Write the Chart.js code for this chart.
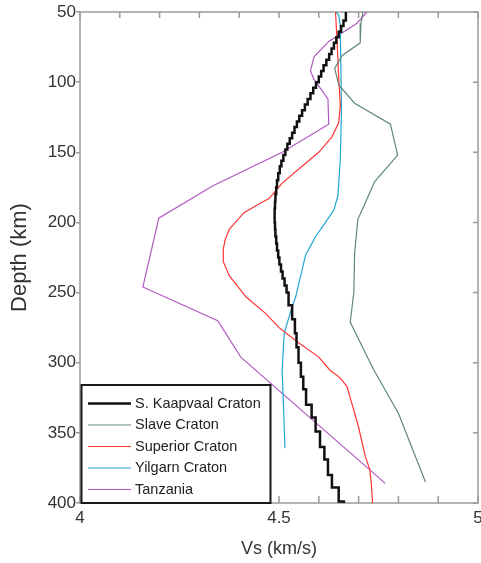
<!DOCTYPE html>
<html>
<head>
<meta charset="utf-8">
<script src="https://cdn.jsdelivr.net/npm/chart.js@4.4.1/dist/chart.umd.min.js"></script>
<style>
  html, body { margin: 0; padding: 0; background: #fff; overflow: hidden; }
  canvas { display: block; }
</style>
</head>
<body>
<canvas id="vsChart" width="481" height="563"></canvas>
<script>
// Profils Vs (km/s) en fonction de la profondeur (km)
const kaapDepth = [50, 56, 60, 64, 68, 72, 76, 80, 84, 88, 92, 96, 100, 104, 108, 112, 116, 120, 124, 128,
    132, 136, 140, 144, 148, 152, 156, 160, 165, 170, 175, 180, 185, 190, 195, 200, 205, 210, 215, 220,
    225, 230, 235, 240, 245, 250, 259, 269, 279, 289, 300, 310, 319, 330, 339, 349, 360, 369, 380, 389, 399, 400];
const kaapVs = [4.668, 4.662, 4.656, 4.650, 4.644, 4.638, 4.632, 4.626, 4.619, 4.612, 4.606, 4.600, 4.593, 4.586, 4.579, 4.572, 4.565, 4.558, 4.551, 4.545,
    4.539, 4.533, 4.527, 4.521, 4.516, 4.511, 4.506, 4.502, 4.498, 4.495, 4.493, 4.491, 4.490, 4.489, 4.489, 4.490, 4.491, 4.493, 4.495, 4.498,
    4.501, 4.505, 4.509, 4.514, 4.519, 4.524, 4.533, 4.540, 4.544, 4.549, 4.555, 4.561, 4.568, 4.582, 4.592, 4.603, 4.614, 4.623, 4.633, 4.650, 4.663, 4.663];

const slaveDepth = [50, 58, 72, 81, 90, 102, 115, 130, 152, 171, 184, 198, 222, 250, 271, 293, 305, 336, 385];
const slaveVs = [4.711, 4.706, 4.704, 4.659, 4.640, 4.650, 4.690, 4.780, 4.798, 4.740, 4.720, 4.698, 4.690, 4.688, 4.679, 4.717, 4.738, 4.800, 4.868];

const supDepth = [50, 72, 96, 117, 129, 139, 150, 160, 172, 183, 186, 193, 205, 212, 219, 228, 238, 253, 265, 275, 286, 296, 305, 311, 317, 329, 346, 367, 376, 386, 400];
const supVs = [4.642, 4.646, 4.650, 4.654, 4.650, 4.633, 4.600, 4.558, 4.508, 4.475, 4.455, 4.412, 4.375, 4.365, 4.360, 4.360, 4.375, 4.417, 4.467, 4.500, 4.550, 4.600, 4.627, 4.654, 4.671, 4.683, 4.700, 4.717, 4.728, 4.732, 4.735];

const yilDepth = [50, 52, 60, 120, 155, 172, 181, 191, 200, 210, 220, 223, 253, 260, 279, 305, 361];
const yilVs = [4.642, 4.650, 4.654, 4.657, 4.654, 4.650, 4.648, 4.638, 4.617, 4.592, 4.573, 4.567, 4.542, 4.533, 4.513, 4.508, 4.515];

const tanDepth = [50, 58, 71, 82, 92, 98, 112, 130, 150, 174, 197, 246, 270, 296, 386];
const tanVs = [4.721, 4.696, 4.625, 4.588, 4.579, 4.588, 4.623, 4.625, 4.508, 4.333, 4.198, 4.158, 4.346, 4.404, 4.767];

const fontName = "'Liberation Sans', Arial, sans-serif";

function toPoints(vs, depth) {
    return vs.map((v, i) => ({ x: v, y: depth[i] }));
}

// Cadre gris et graduations intérieures
const framePlugin = {
    id: 'frame',
    beforeDatasetsDraw(chart) {
        const { ctx, chartArea: a, scales: { x, y } } = chart;
        ctx.save();
        ctx.strokeStyle = '#9a9a9a';
        ctx.lineWidth = 1.5;
        ctx.strokeRect(a.left, a.top, a.right - a.left, a.bottom - a.top);
        ctx.beginPath();
        x.ticks.forEach(t => {
            const px = x.getPixelForValue(t.value);
            ctx.moveTo(px, a.top);
            ctx.lineTo(px, a.top + 6);
            ctx.moveTo(px, a.bottom);
            ctx.lineTo(px, a.bottom - 7);
        });
        y.ticks.forEach(t => {
            const py = y.getPixelForValue(t.value);
            ctx.moveTo(a.right, py);
            ctx.lineTo(a.right - 5, py);
        });
        ctx.stroke();
        ctx.restore();
    }
};

// Légende encadrée en bas à gauche
const boxLegend = {
    id: 'boxLegend',
    afterDraw(chart) {
        const { ctx, chartArea: a } = chart;
        const left = a.left + 1.5, top = 385, right = 270.5, bottom = a.bottom;
        ctx.save();
        ctx.fillStyle = '#fff';
        ctx.fillRect(left, top, right - left, bottom - top);
        ctx.strokeStyle = '#1a1a1a';
        ctx.lineWidth = 2;
        ctx.strokeRect(left, top, right - left, bottom - top);
        ctx.font = '14.5px ' + fontName;
        ctx.textBaseline = 'middle';
        chart.data.datasets.forEach((ds, i) => {
            const yy = 403.5 + i * 21.5;
            ctx.beginPath();
            ctx.strokeStyle = ds.borderColor;
            ctx.lineWidth = ds.borderWidth;
            ctx.moveTo(88, yy);
            ctx.lineTo(131, yy);
            ctx.stroke();
            ctx.fillStyle = '#222';
            ctx.fillText(ds.label, 135, yy);
        });
        ctx.restore();
    }
};

const ctx = document.getElementById('vsChart').getContext('2d');
const vsChart = new Chart(ctx, {
    type: 'scatter',
    data: {
        datasets: [
            { label: 'S. Kaapvaal Craton', data: toPoints(kaapVs, kaapDepth), borderColor: '#111', borderWidth: 2.5, stepped: 'after' },
            { label: 'Slave Craton', data: toPoints(slaveVs, slaveDepth), borderColor: '#5f8a72', borderWidth: 1.2 },
            { label: 'Superior Craton', data: toPoints(supVs, supDepth), borderColor: '#ff3535', borderWidth: 1.2 },
            { label: 'Yilgarn Craton', data: toPoints(yilVs, yilDepth), borderColor: '#1fa6d4', borderWidth: 1.2 },
            { label: 'Tanzania', data: toPoints(tanVs, tanDepth), borderColor: '#b25ac2', borderWidth: 1.2 }
        ].map(ds => Object.assign({ showLine: true, pointRadius: 0, tension: 0, fill: false, borderJoinStyle: 'miter' }, ds))
    },
    options: {
        responsive: false,
        animation: false,
        layout: { padding: { top: 12, right: 3, bottom: 0, left: 0 } },
        plugins: { legend: { display: false }, tooltip: { enabled: false } },
        scales: {
            x: {
                type: 'linear',
                min: 4,
                max: 5,
                grid: { display: false, drawTicks: false },
                border: { display: false },
                ticks: {
                    stepSize: 0.1,
                    padding: 5,
                    maxRotation: 0,
                    autoSkip: false,
                    color: '#333',
                    font: { family: fontName, size: 17 },
                    callback: v => Math.abs(v * 2 - Math.round(v * 2)) < 1e-6 ? String(Math.round(v * 2) / 2) : ''
                },
                title: { display: true, text: 'Vs (km/s)', color: '#333', font: { family: fontName, size: 18 }, padding: { top: 0, bottom: 3 } },
                afterFit(scale) {
                    scale.height = 60;
                    scale.paddingLeft = 0;
                    scale.paddingRight = 0;
                }
            },
            y: {
                type: 'linear',
                reverse: true,
                min: 50,
                max: 400,
                grid: { drawOnChartArea: false, drawTicks: true, tickLength: 4, color: '#9a9a9a', lineWidth: 1.5 },
                border: { display: false },
                ticks: { stepSize: 50, padding: 0, color: '#333', font: { family: fontName, size: 17 } },
                title: { display: true, text: 'Depth (km)', color: '#333', font: { family: fontName, size: 22 }, padding: { top: 7, bottom: 0 } },
                afterFit(scale) {
                    scale.width = 80;
                    scale.paddingTop = 0;
                    scale.paddingBottom = 0;
                }
            }
        }
    },
    plugins: [framePlugin, boxLegend]
});
</script>
</body>
</html>
